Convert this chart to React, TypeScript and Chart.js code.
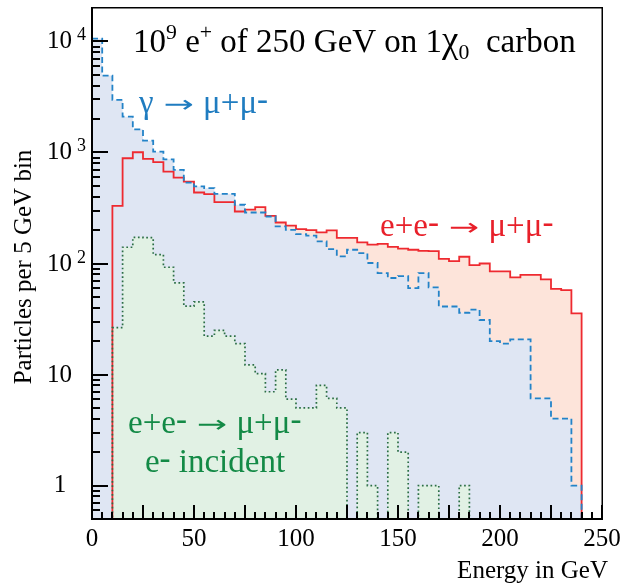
import { useEffect, useRef } from 'react';
import { Chart, registerables } from 'chart.js';

Chart.register(...registerables);

// ---- Data (5 GeV bins, lower edges) ----
const binLowEdges = [
  0, 5, 10, 15, 20, 25, 30, 35, 40, 45,
  50, 55, 60, 65, 70, 75, 80, 85, 90, 95,
  100, 105, 110, 115, 120, 125, 130, 135, 140, 145,
  150, 155, 160, 165, 170, 175, 180, 185, 190, 195,
  200, 205, 210, 215, 220, 225, 230, 235, 240, 245,
];
const binUpperEdge = 250;

// gamma -> mu+ mu-  (blue dashed)
const gammaToMuMu = [
  10600, 4930, 2980, 2100, 1615, 1277, 1017, 868, 697, 536,
  494, 477, 424, 424, 338, 288, 288, 265, 216, 201,
  184, 178, 158, 135, 116, 133, 124, 101, 82, 74,
  77, 60, 82, 61, 41, 41, 36, 38.5, 31, 20,
  19, 20.7, 20.7, 6.1, 6.1, 4, 4, 1, 0, 0,
];

// e+e- -> mu+ mu-  (red solid)
const annihilationMuMu = [
  0, 0, 331, 887, 1004, 875, 817, 673, 594, 547,
  436, 421, 357, 357, 294, 305, 322, 269, 234, 219,
  204, 200, 191, 199, 170, 170, 155, 148, 150, 141,
  136, 133, 130, 129, 110, 105, 115, 96.5, 100, 85,
  85, 75, 79, 79, 72, 59, 57.5, 35.5, 0, 0,
];

// e+e- -> mu+ mu-, e- incident  (green dotted)
const electronIncidentMuMu = [
  0, 0, 26.4, 140, 172, 171, 120, 92.5, 67, 41.3,
  45.2, 22.2, 25, 22.2, 19, 12.2, 10.2, 7, 11, 6,
  5, 5, 8, 6.1, 5, 0, 3, 1, 0, 3,
  2, 0, 1, 1, 0, 0, 1, 0, 0, 0,
  0, 0, 0, 0, 0, 0, 0, 0, 0, 0,
];

const xTickValues = [0, 50, 100, 150, 200, 250];
const xTickLabels = ['0', '50', '100', '150', '200', '250'];
const yDecadeValues = [1, 10, 100, 1000, 10000];
const yDecadeBase = ['1', '10', '10', '10', '10'];
const yDecadeExp = ['', '', '2', '3', '4'];

const xAxisTitle = 'Energy in GeV';
const yAxisTitle = 'Particles per 5 GeV bin';

const X_MIN = 0;
const X_MAX = 250;
const Y_MIN = 0.5;
const Y_MAX = 20000;

const FONT = '"Liberation Serif", "Times New Roman", Times, serif';
const ARROW_FONT = '"DejaVu Sans", sans-serif';

const BLUE_LINE = '#2383c8';
const BLUE_TEXT = '#1f7cc0';
const BLUE_FILL = 'rgb(223,230,243)';
const RED_LINE = '#ee2a30';
const RED_TEXT = '#e8202a';
const RED_FILL = 'rgb(253,228,218)';
const GREEN_LINE = '#2b6e45';
const GREEN_TEXT = '#138a46';
const GREEN_FILL = 'rgb(225,241,228)';

type Part = { t: string; s?: 'sup' | 'sub' | 'raise' | 'arrow' | 'big' };

function partFont(p: Part, size: number) {
  if (p.s === 'sup' || p.s === 'sub') return `${size * 0.66}px ${FONT}`;
  if (p.s === 'arrow') return `${size * 0.9}px ${ARROW_FONT}`;
  if (p.s === 'big') return `${size * 1.12}px ${FONT}`;
  return `${size}px ${FONT}`;
}

function partWidth(ctx: CanvasRenderingContext2D, p: Part, size: number) {
  if (p.s === 'arrow') return size * 1.0;
  ctx.font = partFont(p, size);
  return ctx.measureText(p.t).width;
}

function drawRich(
  ctx: CanvasRenderingContext2D,
  parts: Part[],
  x: number,
  y: number,
  size: number,
  color: string,
  align: 'left' | 'center' | 'right' = 'left'
) {
  let w = 0;
  for (const p of parts) w += partWidth(ctx, p, size);
  let cx = align === 'left' ? x : align === 'center' ? x - w / 2 : x - w;
  ctx.fillStyle = color;
  ctx.textAlign = 'left';
  ctx.textBaseline = 'alphabetic';
  for (const p of parts) {
    const pw = partWidth(ctx, p, size);
    ctx.font = partFont(p, size);
    if (p.s === 'arrow') {
      const natural = ctx.measureText(p.t).width;
      ctx.save();
      ctx.translate(cx + size * 0.04, y - size * 0.02);
      ctx.scale((pw - size * 0.08) / natural, 0.8);
      ctx.fillText(p.t, 0, 0);
      ctx.restore();
    } else {
      const dy =
        p.s === 'sup' ? -size * 0.38 : p.s === 'sub' ? size * 0.22 : p.s === 'raise' ? -size * 0.1 : 0;
      ctx.fillText(p.t, cx, y + dy);
    }
    cx += pw;
  }
}

const reaction = (): Part[] => [
  { t: 'e+e' },
  { t: '-', s: 'raise' },
  { t: ' ' },
  { t: '\u2192', s: 'arrow' },
  { t: ' \u03BC+\u03BC' },
  { t: '-', s: 'raise' },
];

const rootStyle = {
  id: 'rootStyle',
  afterDraw(chart: any) {
    const { ctx, chartArea, scales } = chart;
    const left = chartArea.left;
    const right = chartArea.right;
    const top = chartArea.top;
    const bottom = chartArea.bottom;
    ctx.save();
    ctx.fillStyle = '#000';

    // frame
    ctx.fillRect(left - 1, top - 1, right - left + 2, 1.5); // top
    ctx.fillRect(right - 0.5, top - 1, 1.5, bottom - top + 2); // right
    ctx.fillRect(left - 1, top - 1, 2, bottom - top + 2); // left
    ctx.fillRect(left - 1, bottom - 1, right - left + 2, 2); // bottom

    // x ticks (inside, pointing up): every 5 GeV, long every 25 GeV
    for (let e = X_MIN; e <= X_MAX; e += 5) {
      const px = Math.round(scales.x.getPixelForValue(e));
      const len = e % 25 === 0 ? 14 : 7;
      ctx.fillRect(px - 1, bottom - len, 2, len);
    }

    // y ticks (inside, pointing right): decades long, 2..9 short
    for (let d = -1; d <= 4; d++) {
      for (let m = 1; m <= 9; m++) {
        const v = m * Math.pow(10, d);
        if (v < Y_MIN || v >= Y_MAX) continue;
        const py = Math.round(scales.y.getPixelForValue(v));
        const len = m === 1 ? 16 : 8;
        ctx.fillRect(left, py - 1, len, 2);
      }
    }

    // x tick labels
    ctx.font = `25px ${FONT}`;
    ctx.textAlign = 'center';
    ctx.textBaseline = 'alphabetic';
    xTickValues.forEach((v, i) => {
      ctx.fillText(xTickLabels[i], scales.x.getPixelForValue(v), bottom + 27);
    });

    // y tick labels
    yDecadeValues.forEach((v, i) => {
      const py = scales.y.getPixelForValue(v);
      ctx.fillStyle = '#000';
      ctx.font = `25px ${FONT}`;
      if (yDecadeBase[i] === '1') {
        ctx.textAlign = 'center';
        ctx.fillText('1', 60, py + 6);
      } else {
        ctx.textAlign = 'left';
        ctx.fillText(yDecadeBase[i], 47, py + 7);
        if (yDecadeExp[i]) {
          const w = ctx.measureText(yDecadeBase[i]).width;
          ctx.font = `18px ${FONT}`;
          ctx.fillText(yDecadeExp[i], 47 + w + 5, py - 1);
        }
      }
    });

    // axis titles
    ctx.fillStyle = '#000';
    ctx.font = `25px ${FONT}`;
    ctx.textAlign = 'right';
    ctx.fillText(xAxisTitle, 608, 578);
    ctx.save();
    ctx.translate(31, 267);
    ctx.rotate(-Math.PI / 2);
    ctx.textAlign = 'center';
    ctx.font = `25px ${FONT}`;
    ctx.fillText(yAxisTitle, 0, 0);
    ctx.restore();

    // annotations
    drawRich(
      ctx,
      [
        { t: '10' },
        { t: '9', s: 'sup' },
        { t: ' e' },
        { t: '+', s: 'sup' },
        { t: ' of 250 GeV on 1' },
        { t: '\u03C7', s: 'big' },
        { t: '0', s: 'sub' },
        { t: '  carbon' },
      ],
      133,
      52,
      33,
      '#000'
    );
    drawRich(
      ctx,
      [{ t: '\u03B3 ' }, { t: '\u2192', s: 'arrow' }, { t: ' \u03BC+\u03BC' }, { t: '-', s: 'raise' }],
      139,
      113,
      33,
      BLUE_TEXT
    );
    drawRich(ctx, reaction(), 380, 236, 33, RED_TEXT);
    drawRich(ctx, reaction(), 128, 433, 33, GREEN_TEXT);
    drawRich(ctx, [{ t: 'e' }, { t: '-', s: 'raise' }, { t: ' incident' }], 215, 472, 33, GREEN_TEXT, 'center');

    ctx.restore();
  },
};

const FLOOR = 0.05; // empty bins drawn below the visible range

function toSteps(values: number[]) {
  const pts = binLowEdges.map((e, i) => ({ x: e, y: values[i] > 0 ? values[i] : FLOOR }));
  const last = values[values.length - 1];
  pts.push({ x: binUpperEdge, y: last > 0 ? last : FLOOR });
  return pts;
}

export default function App() {
  const ref = useRef<HTMLCanvasElement>(null);

  useEffect(() => {
    if (!ref.current) return;
    const chart = new Chart(ref.current, {
      type: 'line',
      data: {
        datasets: [
          {
            label: 'e+e- -> mu+mu- (e- incident)',
            data: toSteps(electronIncidentMuMu),
            stepped: true,
            borderColor: GREEN_LINE,
            borderWidth: 1.7,
            borderDash: [1.7, 2.6],
            backgroundColor: GREEN_FILL,
            fill: 'start',
            pointRadius: 0,
          },
          {
            label: 'gamma -> mu+mu-',
            data: toSteps(gammaToMuMu),
            stepped: true,
            borderColor: BLUE_LINE,
            borderWidth: 1.8,
            borderDash: [6, 3.5],
            backgroundColor: BLUE_FILL,
            fill: 'start',
            pointRadius: 0,
          },
          {
            label: 'e+e- -> mu+mu-',
            data: toSteps(annihilationMuMu),
            stepped: true,
            borderColor: RED_LINE,
            borderWidth: 1.8,
            backgroundColor: RED_FILL,
            fill: 'start',
            pointRadius: 0,
          },
        ] as any,
      },
      options: {
        animation: false,
        responsive: false,
        devicePixelRatio: 1,
        layout: { padding: { left: 92, right: 21, top: 8, bottom: 66 } },
        plugins: {
          legend: { display: false },
          tooltip: { enabled: false },
          filler: { drawTime: 'beforeDatasetsDraw' },
        } as any,
        scales: {
          x: { type: 'linear', min: X_MIN, max: X_MAX, display: false },
          y: { type: 'logarithmic', min: Y_MIN, max: Y_MAX, display: false },
        },
        elements: { point: { radius: 0 }, line: { tension: 0 } },
      },
      plugins: [rootStyle],
    });
    return () => chart.destroy();
  }, []);

  return (
    <div style={{ position: 'absolute', left: 0, top: 0, width: 623, height: 585, background: '#fff' }}>
      <canvas ref={ref} width={623} height={585} style={{ display: 'block', width: 623, height: 585 }} />
    </div>
  );
}
